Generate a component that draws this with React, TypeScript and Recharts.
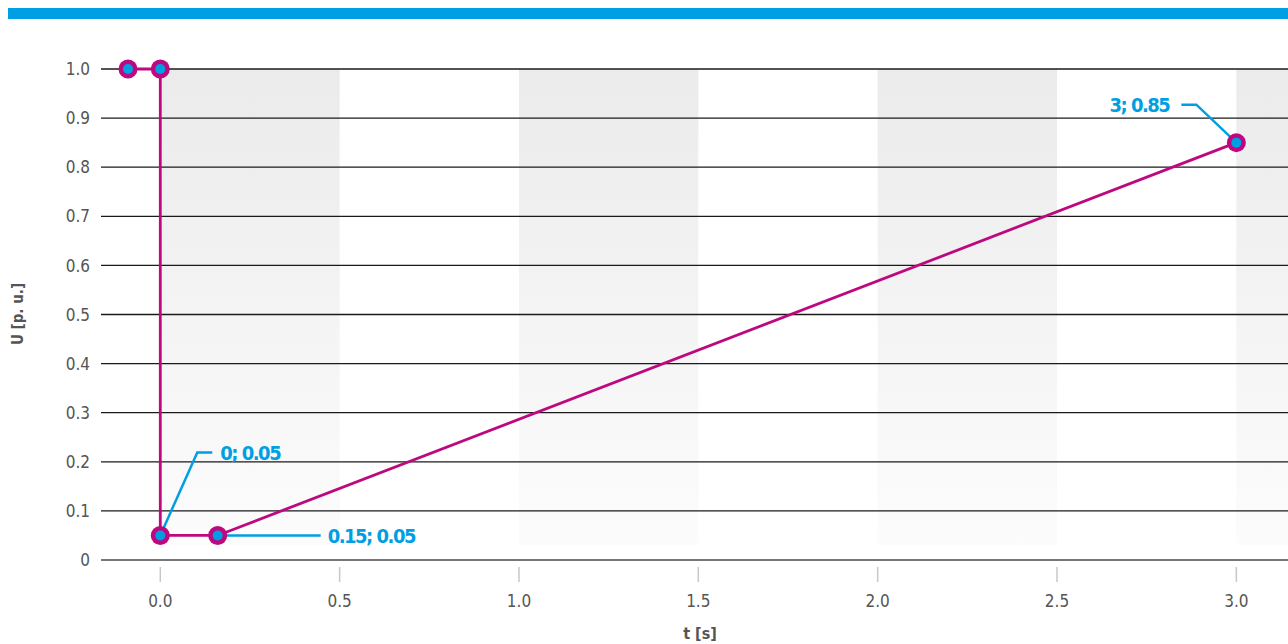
import React from "react";
import {
  ComposedChart,
  Line,
  XAxis,
  YAxis,
  ReferenceArea,
  ReferenceLine,
} from "recharts";

const tValues = [-0.09, 0, 0, 0.16, 3];
const uValues = [1, 1, 0.05, 0.05, 0.85];
const pointLabels = ["", "", "0; 0.05", "0.15; 0.05", "3; 0.85"];
const xTicks = [0, 0.5, 1, 1.5, 2, 2.5, 3];
const yTicks = [0, 0.1, 0.2, 0.3, 0.4, 0.5, 0.6, 0.7, 0.8, 0.9, 1];
const gridValues = [0.1, 0.2, 0.3, 0.4, 0.5, 0.6, 0.7, 0.8, 0.9, 1];
const bandStarts = [0, 1, 2, 3];
const bandEnds = [0.5, 1.5, 2.5, 3.144];

const data = tValues.map((t, i) => ({ t, u: uValues[i], label: pointLabels[i] }));

const FONT = "'DejaVu Sans Condensed', 'DejaVu Sans', sans-serif";
const MAGENTA = "#bd0880";
const BLUE = "#009fe3";

const calloutText = (x: number, y: number, txt: string, anchor: "start" | "end") => (
  <text
    x={x}
    y={y}
    dy="0.36em"
    textAnchor={anchor}
    fill={BLUE}
    fontSize={20}
    letterSpacing={-1.5}
    fontWeight="bold"
    fontFamily={FONT}
  >
    {txt}
  </text>
);

const Dot = (props: any) => {
  const { cx, cy, index, payload } = props;
  if (cx == null || cy == null) return null;
  let callout: React.ReactNode = null;
  const txt = payload?.label;
  if (txt && index === 2) {
    callout = (
      <g>
        <polyline
          points={`${cx},${cy} ${cx + 37},${cy - 83} ${cx + 52},${cy - 83}`}
          fill="none"
          stroke={BLUE}
          strokeWidth={2.5}
        />
        {calloutText(cx + 60, cy - 83, txt, "start")}
      </g>
    );
  } else if (txt && index === 3) {
    callout = (
      <g>
        <polyline points={`${cx},${cy} ${cx + 103},${cy}`} fill="none" stroke={BLUE} strokeWidth={2.5} />
        {calloutText(cx + 110, cy, txt, "start")}
      </g>
    );
  } else if (txt && index === 4) {
    callout = (
      <g>
        <polyline
          points={`${cx},${cy} ${cx - 40},${cy - 38} ${cx - 55},${cy - 38}`}
          fill="none"
          stroke={BLUE}
          strokeWidth={2.5}
        />
        {calloutText(cx - 67, cy - 38, txt, "end")}
      </g>
    );
  }
  return (
    <g key={`dot-${index}`}>
      {callout}
      <circle cx={cx} cy={cy} r={9.5} fill={MAGENTA} />
      <circle cx={cx} cy={cy} r={5} fill={BLUE} />
    </g>
  );
};

const XTick = (props: any) => {
  const { x, y, payload } = props;
  return (
    <g>
      <line x1={x} x2={x} y1={y + 7} y2={y + 22} stroke="#c8c8c8" strokeWidth={1.5} />
      <text x={x} y={y + 41} dy="0.36em" textAnchor="middle" fill="#555" fontSize={17} fontFamily={FONT}>
        {Number(payload.value).toFixed(1)}
      </text>
    </g>
  );
};

const YTick = (props: any) => {
  const { x, y, payload } = props;
  const v = Number(payload.value);
  return (
    <text x={x} y={y} dy="0.36em" textAnchor="end" fill="#555" fontSize={17} fontFamily={FONT}>
      {v === 0 ? "0" : v.toFixed(1)}
    </text>
  );
};

export default function App() {
  return (
    <div
      style={{
        position: "fixed",
        left: 0,
        top: 0,
        width: 1288,
        height: 644,
        overflow: "hidden",
        background: "#fff",
        fontFamily: FONT,
      }}
    >
      <div style={{ position: "absolute", left: 8, top: 8, height: 11, width: 1280, background: BLUE }} />
      <div style={{ position: "absolute", left: 8, top: 19, width: 1280, height: 625 }}>
        <ComposedChart width={1280} height={625} data={data} margin={{ top: 50, right: 0, bottom: 0, left: 0 }}>
          <defs>
            <linearGradient id="bandGrad" x1="0" y1="0" x2="0" y2="1">
              <stop offset="0%" stopColor="#ebebeb" />
              <stop offset="100%" stopColor="#fcfcfc" />
            </linearGradient>
          </defs>
          {bandStarts.map((s, i) => (
            <ReferenceArea
              key={`band-${i}`}
              x1={s}
              x2={bandEnds[i]}
              y1={0.03}
              y2={1}
              fill="url(#bandGrad)"
              fillOpacity={1}
              stroke="none"
              ifOverflow="extendDomain"
            />
          ))}
          {gridValues.map((g) => (
            <ReferenceLine key={`grid-${g}`} y={g} stroke="#1a1a1a" strokeWidth={1.3} />
          ))}
          <XAxis
            dataKey="t"
            type="number"
            domain={[-0.1653, 3.144]}
            ticks={xTicks}
            allowDataOverflow
            height={84}
            tickSize={0}
            tickMargin={0}
            tickLine={false}
            axisLine={{ stroke: "#777", strokeWidth: 2 }}
            tick={<XTick />}
          />
          <YAxis
            type="number"
            domain={[0, 1]}
            ticks={yTicks}
            width={93}
            axisLine={false}
            tickLine={false}
            tickSize={0}
            tickMargin={11}
            tick={<YTick />}
          />
          <Line
            dataKey="u"
            type="linear"
            stroke={MAGENTA}
            strokeWidth={2.8}
            dot={<Dot />}
            activeDot={false}
            isAnimationActive={false}
          />
        </ComposedChart>
        <svg
          width={1280}
          height={625}
          style={{ position: "absolute", left: 0, top: 0, pointerEvents: "none" }}
        >
          <text
            x={10}
            y={295}
            transform="rotate(-90 10 295)"
            textAnchor="middle"
            dy="0.36em"
            fill="#555"
            fontSize={15}
            fontWeight="bold"
            fontFamily={FONT}
          >
            U [p. u.]
          </text>
          <text x={692} y={614} textAnchor="middle" dy="0.36em" fill="#555" fontSize={16} fontWeight="bold" fontFamily={FONT}>
            t [s]
          </text>
        </svg>
      </div>
    </div>
  );
}
